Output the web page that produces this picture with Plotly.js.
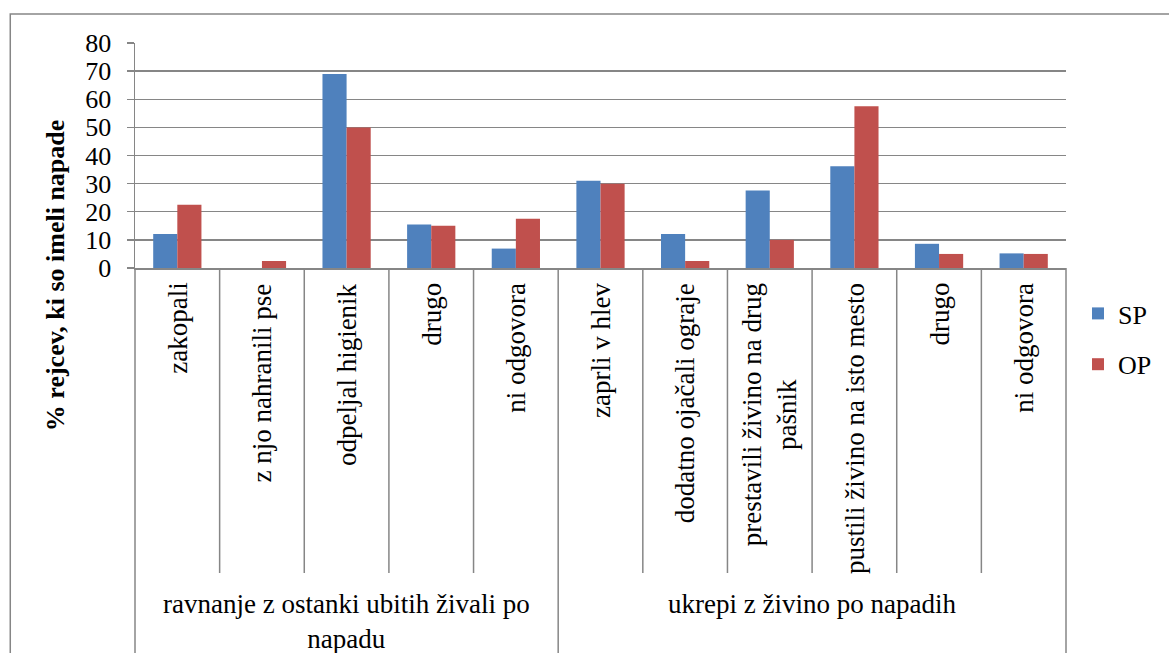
<!DOCTYPE html>
<html>
<head>
<meta charset="utf-8">
<script src="https://cdn.plot.ly/plotly-3.0.1.min.js"></script>
<style>
  html, body { margin: 0; padding: 0; background: #fff; }
  #chart { width: 1169px; height: 653px; }
</style>
</head>
<body>
<div id="chart"></div>
<script>
// Response categories, grouped under two questions
const groups = [
  "ravnanje z ostanki ubitih živali po<br>napadu",
  "ukrepi z živino po napadih"
];
const groupSizes = [5, 6];
const categories = [
  "zakopali",
  "z njo nahranili pse",
  "odpeljal higienik",
  "drugo",
  "ni odgovora",
  "zaprli v hlev",
  "dodatno ojačali ograje",
  "prestavili živino na drug<br>pašnik",
  "pustili živino na isto mesto",
  "drugo",
  "ni odgovora"
];
// % of breeders who had attacks
const spValues = [12.1, 0, 69.0, 15.5, 6.9, 31.0, 12.1, 27.6, 36.2, 8.6, 5.2];
const opValues = [22.5, 2.5, 50.0, 15.0, 17.5, 30.0, 2.5, 10.0, 57.5, 5.0, 5.0];
const seriesNames = ["SP", "OP"];
const yTicks = [0, 10, 20, 30, 40, 50, 60, 70, 80];

const FONT = "Liberation Serif";
const GRID = "#868686";
const n = categories.length;
const xIdx = categories.map((_, i) => i);

// plot-area geometry in px, used to convert positions outside the plot to paper units
const W = 1169, H = 653;
const M = { l: 135, r: 101, t: 43, b: 385 };
const plotW = W - M.l - M.r, plotH = H - M.t - M.b;
const pxY = (py) => (H - M.b - py) / plotH;      // pixel row -> paper y
const pxX = (px) => (px - M.l) / plotW;          // pixel column -> paper x
const bx = (b) => (b + 0.5) / n;                 // category boundary -> paper x

const traces = [
  {
    type: "bar", name: seriesNames[0], x: xIdx, y: spValues,
    marker: { color: "#4F81BD", line: { width: 0 } }, legendgroup: "a"
  },
  {
    type: "bar", name: seriesNames[1], x: xIdx, y: opValues,
    marker: { color: "#C0504D", line: { width: 0 } }, legendgroup: "b"
  }
];

const shapes = [];
// outer chart frame
shapes.push({
  type: "rect", xref: "paper", yref: "paper",
  x0: pxX(10), x1: pxX(1190), y0: pxY(700), y1: pxY(14),
  line: { color: GRID, width: 1.5 }, fillcolor: "rgba(0,0,0,0)", layer: "below"
});
// separators between categories and between groups
let start = 0;
const groupBounds = [-0.5];
groupSizes.forEach(s => { start += s; groupBounds.push(start - 0.5); });
for (let b = 0.5; b < n - 0.5; b += 1) {
  if (groupBounds.includes(b)) continue;
  shapes.push({
    type: "line", xref: "paper", yref: "paper",
    x0: bx(b), x1: bx(b), y0: 0, y1: pxY(573),
    line: { color: GRID, width: 1.5 }
  });
}
groupBounds.forEach(b => {
  shapes.push({
    type: "line", xref: "paper", yref: "paper",
    x0: bx(b), x1: bx(b), y0: 0, y1: pxY(700),
    line: { color: GRID, width: 1.5 }
  });
});

const annotations = [];
// rotated category labels
categories.forEach((c, i) => {
  annotations.push({
    text: c, xref: "x", yref: "paper", x: i, y: pxY(281),
    xanchor: "center", yanchor: "top", textangle: -90, align: "center",
    showarrow: false, font: { family: FONT, size: 27, color: "#000" }
  });
});
// group labels
start = 0;
groups.forEach((g, k) => {
  const mid = start + (groupSizes[k] - 1) / 2;
  start += groupSizes[k];
  annotations.push({
    text: g, xref: "x", yref: "paper", x: mid, y: pxY(587),
    xanchor: "center", yanchor: "top", align: "center",
    showarrow: false, font: { family: FONT, size: 27, color: "#000" }
  });
});
// y-axis title
annotations.push({
  text: "<b>% rejcev, ki so imeli napade</b>", xref: "paper", yref: "paper",
  x: pxX(55), y: pxY(275), xanchor: "center", yanchor: "middle",
  textangle: -90, showarrow: false, font: { family: FONT, size: 26, color: "#000" }
});

const layout = {
  width: W, height: H,
  margin: M,
  paper_bgcolor: "#fff", plot_bgcolor: "#fff",
  font: { family: FONT, size: 26, color: "#000" },
  barmode: "group",
  bargap: 0.43, bargroupgap: 0,
  showlegend: true,
  legend: {
    x: pxX(1080), y: pxY(290), xanchor: "left", yanchor: "top",
    font: { family: FONT, size: 26, color: "#000" },
    traceorder: "grouped", tracegroupgap: 14,
    bgcolor: "rgba(0,0,0,0)", itemwidth: 30
  },
  xaxis: {
    range: [-0.5, n - 0.5], showticklabels: false, ticks: "",
    showgrid: false, zeroline: false, showline: true, linecolor: GRID, linewidth: 1.5,
    fixedrange: true
  },
  yaxis: {
    range: [0, 80], tickvals: yTicks, ticktext: yTicks.map(String),
    showgrid: true, gridcolor: GRID, gridwidth: 1.3, zeroline: false,
    showline: true, linecolor: GRID, linewidth: 1.5,
    ticks: "outside", ticklen: 7, tickcolor: GRID, tickwidth: 1.3,
    ticklabelstandoff: 10,
    tickfont: { family: FONT, size: 26, color: "#000" },
    fixedrange: true
  },
  shapes: shapes,
  annotations: annotations
};

Plotly.newPlot("chart", traces, layout, { displayModeBar: false, staticPlot: true });
</script>
</body>
</html>
